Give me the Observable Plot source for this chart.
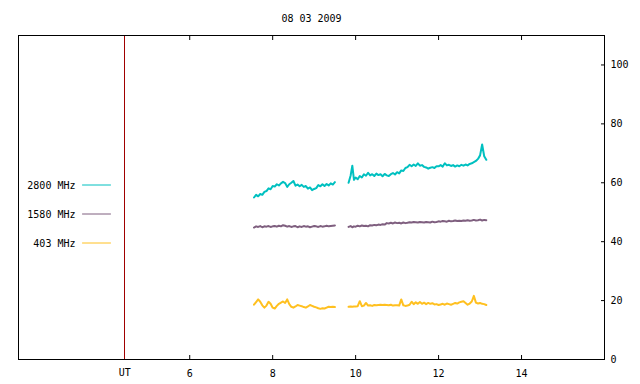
<!DOCTYPE html>
<html><head><meta charset="utf-8">
<script src="https://cdn.jsdelivr.net/npm/d3@7"></script>
<script src="https://cdn.jsdelivr.net/npm/@observablehq/plot@0.6"></script>
<style>body{margin:0;background:#fff}</style>
</head><body><div id="chart"></div>
<script>
const title = "08 03 2009";
const seriesNames = ["2800 MHz", "1580 MHz", "403 MHz"];
const seriesColors = ["#00c0c0", "#7f5f7f", "#ffc020"];
const xTicks = [6, 8, 10, 12, 14];
const yTicks = [0, 20, 40, 60, 80, 100];
const utLabel = "UT";
const utHour = 4.434;
const xDomain = [1.872, 16];
const yDomain = [0, 110];

// UT hours (the null-valued point at 9.68 marks the data gap)
const hours = [
  7.55, 7.60, 7.65, 7.70, 7.75, 7.80, 7.85, 7.90, 7.95, 8.00,
  8.05, 8.10, 8.15, 8.20, 8.25, 8.30, 8.35, 8.40, 8.45, 8.50,
  8.55, 8.60, 8.65, 8.70, 8.75, 8.80, 8.85, 8.90, 8.95, 9.00,
  9.05, 9.10, 9.15, 9.20, 9.25, 9.30, 9.35, 9.40, 9.45, 9.50,
  9.68,
  9.83, 9.88, 9.92, 9.96,
  10.00, 10.05, 10.10, 10.15, 10.20, 10.25, 10.30, 10.35, 10.40, 10.45,
  10.50, 10.55, 10.60, 10.65, 10.70, 10.75, 10.80, 10.85, 10.90, 10.95,
  11.00, 11.05, 11.10, 11.15, 11.20, 11.25, 11.30, 11.35, 11.40, 11.45,
  11.50, 11.55, 11.60, 11.65, 11.70, 11.75, 11.80, 11.85, 11.90, 11.95,
  12.00, 12.05, 12.10, 12.15, 12.20, 12.25, 12.30, 12.35, 12.40, 12.45,
  12.50, 12.55, 12.60, 12.65, 12.70, 12.75, 12.80, 12.85, 12.90, 12.95,
  13.00, 13.05, 13.10, 13.15
];
const f2800 = [
  55.0, 55.9, 55.4, 56.2, 55.9, 56.9, 57.2, 58.1, 57.8, 58.9,
  58.7, 59.5, 59.1, 59.8, 60.3, 59.9, 58.6, 59.5, 60.0, 60.6,
  59.0, 59.4, 58.8, 59.3, 58.6, 58.9, 58.0, 58.4, 57.5, 57.9,
  58.2, 59.2, 58.8, 59.5, 58.9, 59.6, 59.1, 59.8, 59.4, 60.2,
  null,
  60.0, 62.5, 65.8, 61.0,
  61.8, 61.2, 62.3, 61.8, 62.9, 62.4, 63.4, 62.5, 62.9, 62.3,
  63.1, 62.6, 62.9, 62.2, 63.0, 62.5, 62.3, 62.9, 63.3, 62.8,
  63.6, 63.2, 64.2, 64.0, 65.0, 65.3, 66.1, 65.6, 66.2, 65.7,
  66.6, 65.8, 66.0, 65.4, 65.2, 64.8, 65.1, 65.3, 65.0, 65.6,
  65.6, 66.0, 65.5, 66.6, 65.9, 66.1, 65.7, 66.0, 65.5, 65.9,
  65.6, 66.1, 65.8, 66.2, 65.9, 66.4, 66.6, 67.0, 67.4, 68.1,
  69.3, 73.0, 69.0, 67.8
];
const f1580 = [
  44.8, 45.2, 45.0, 45.3, 44.9, 45.2, 45.1, 45.3, 45.0, 45.2,
  45.3, 45.1, 45.4, 45.2, 45.6, 45.4, 45.1, 45.3, 45.0, 45.2,
  45.3, 44.9, 45.2, 45.0, 45.3, 45.1, 45.2, 44.9, 45.1, 45.3,
  45.2, 45.0, 45.3, 45.1, 45.2, 45.4, 45.2, 45.3, 45.4, 45.5,
  null,
  45.0, 45.3, 44.9, 45.2,
  45.1, 45.4, 45.2, 45.5, 45.3, 45.4, 45.2, 45.6, 45.5, 45.7,
  45.6, 45.8, 45.7, 45.9, 45.8, 46.3, 46.2, 46.4, 46.2, 46.5,
  46.3, 46.4, 46.2, 46.5, 46.3, 46.4, 46.6, 46.5, 46.7, 46.6,
  46.5, 46.7, 46.6, 46.5, 46.7, 46.6, 46.5, 46.8, 46.6, 46.7,
  46.9, 46.8, 47.0, 46.9, 46.8, 47.1, 46.9, 47.0, 47.2, 47.0,
  47.1, 47.0, 47.2, 47.1, 47.3, 47.1, 47.2, 47.4, 47.2, 47.3,
  47.5, 47.2, 47.4, 47.3
];
const f403 = [
  18.6, 19.5, 20.4, 19.6, 18.4, 17.6, 18.3, 19.6, 18.9, 17.6,
  17.3, 18.2, 18.9, 19.3, 19.7, 19.2, 20.4, 18.8, 17.9, 17.6,
  18.0, 18.5, 18.3, 18.1, 17.8, 17.6, 18.0, 18.5, 18.2, 17.9,
  17.7, 17.4, 17.2, 17.4, 17.3, 17.6, 17.9, 17.8, 17.9, 17.8,
  null,
  17.9, 18.0, 17.9, 18.0,
  18.0, 18.1, 19.8, 18.1, 18.3, 19.2, 18.3, 18.4, 18.2, 18.5,
  18.4, 18.5, 18.6, 18.5, 18.6, 18.5, 18.4, 18.6, 18.3, 18.4,
  18.4, 18.3, 20.4, 18.4, 18.2, 18.3, 18.6, 19.6, 18.8, 19.4,
  18.9, 19.5, 18.9, 19.3, 18.8, 19.2, 18.9, 19.1, 18.7, 18.8,
  18.5, 18.7, 18.9, 18.6, 19.0, 18.8, 18.6, 18.9, 19.2, 19.0,
  19.4, 19.6, 19.8, 19.2, 18.6, 19.0, 19.7, 21.6, 19.3, 19.0,
  19.2, 18.9, 18.8, 18.5
];

const seriesValues = [f2800, f1580, f403];
const rows = hours.map((h, i) => ({h, v0: f2800[i], v1: f1580[i], v2: f403[i]}));

const lineShape = {draw(ctx, l) { ctx.moveTo(0, 0); ctx.lineTo(0, -l); }};

const legendMarks = seriesNames.flatMap((name, i) => [
  Plot.text([name], {frameAnchor: "top-left", lineAnchor: "middle", dx: 57, dy: 150 + 29 * i, textAnchor: "end", fill: "black"}),
  Plot.vector([name], {frameAnchor: "top-left", dx: 64, dy: 149.5 + 29 * i, length: 28, rotate: 90, anchor: "start",
    shape: lineShape, stroke: seriesColors[i], strokeWidth: 1})
]);

const chart = Plot.plot({
  width: 640,
  height: 384,
  marginTop: 35,
  marginLeft: 18,
  marginRight: 36,
  marginBottom: 25,
  style: {fontFamily: "DejaVu Sans Mono", fontSize: "10px", background: "white", color: "black"},
  x: {domain: xDomain, axis: null},
  y: {domain: yDomain, axis: null},
  marks: [
    Plot.axisX({anchor: "bottom", ticks: xTicks, tickSize: -4, tickPadding: 14, label: null, tickFormat: d => String(d)}),
    Plot.axisX({anchor: "top", ticks: xTicks, tickSize: -4, label: null, tickFormat: () => ""}),
    Plot.axisY({anchor: "right", ticks: yTicks, tickSize: -4, tickPadding: 10, label: null, tickFormat: d => String(d)}),
    Plot.ruleX([utHour], {stroke: "#a00000", strokeWidth: 1, shapeRendering: "crispEdges"}),
    Plot.text([utLabel], {x: d => utHour, frameAnchor: "bottom", lineAnchor: "top", dy: 9}),
    ...seriesValues.map((_, i) => Plot.lineY(rows, {x: "h", y: "v" + i, stroke: seriesColors[i], strokeWidth: 2})),
    ...legendMarks,
    Plot.text([title], {frameAnchor: "top", lineAnchor: "middle", dy: -17}),
    Plot.frame({stroke: "black"})
  ]
});
document.getElementById("chart").appendChild(chart);
</script>
</body></html>
